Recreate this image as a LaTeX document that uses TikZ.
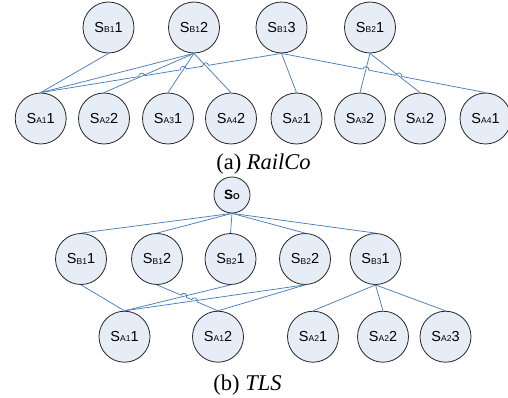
\documentclass[tikz,border=0pt]{standalone}
\usepackage{fontspec}
\setmainfont{Liberation Serif}
\newfontfamily\arialf{Liberation Sans}
\usetikzlibrary{calc,intersections}
\definecolor{nodefill}{RGB}{231,237,247}
\definecolor{edgeblue}{RGB}{74,126,187}
\newcommand\lbl[2]{{\arialf\fontsize{14.5}{15}\selectfont S\raisebox{-0.3pt}{\fontsize{8.5}{9}\selectfont #1}#2}}
\newcommand\lblo{{\arialf\bfseries\fontsize{13.5}{14}\selectfont S\raisebox{-0.6pt}{\fontsize{8.5}{9}\selectfont O}}}
\begin{document}
\begin{tikzpicture}[x=1pt,y=-1pt,
  st/.style={circle,draw=black!85,line width=0.8pt,fill=nodefill,minimum size=51pt,inner sep=0pt},
  sto/.style={st,minimum size=36pt},
  edge/.style={draw=edgeblue,line width=0.75pt},
  captxt/.style={font=\fontsize{22.5}{24}\selectfont,anchor=base,inner sep=0pt}]
\useasboundingbox (0,0) rectangle (508,398);
% ---------- RailCo ----------
\node[st] (rb11) at (108.5,27.5) {\lbl{B1}{1}};
\node[st] (rb12) at (194,27.5) {\lbl{B1}{2}};
\node[st] (rb13) at (281.5,27.5) {\lbl{B1}{3}};
\node[st] (rb21) at (370,27.5) {\lbl{B2}{1}};
\node[st] (ra11) at (40.7,118.5) {\lbl{A1}{1}};
\node[st] (ra22) at (104,118.5) {\lbl{A2}{2}};
\node[st] (ra31) at (168,118.5) {\lbl{A3}{1}};
\node[st] (ra42) at (231,118.5) {\lbl{A4}{2}};
\node[st] (ra21) at (296.5,118.5) {\lbl{A2}{1}};
\node[st] (ra32) at (360,118.5) {\lbl{A3}{2}};
\node[st] (ra12) at (420,118.5) {\lbl{A1}{2}};
\node[st] (ra41) at (485.5,118.5) {\lbl{A4}{1}};
\node[captxt] (capa) at (263.5,169) {(a) \textit{RailCo}};
\draw[edge] (rb11.south) -- (ra11.north);
\draw[edge] (rb12.south) -- (ra11.north);
\draw[edge,name path=r1] (rb12.south) -- (ra22.north);
\draw[edge,name path=r2] (rb12.south) -- (ra31.north);
\draw[edge,name path=r3] (rb12.south) -- (ra42.north);
\draw[edge] (rb13.south) -- (ra21.north);
\draw[edge,name path=r4] (rb21.south) -- (ra32.north);
\draw[edge,name path=r5] (rb21.south) -- (ra12.north);
\path[name path=rh1] (ra11.north) -- (rb13.south);
\path[name path=rh2] (rb13.south) -- (ra41.north);
\path[name intersections={of=rh1 and r1,by=x1}];
\path[name intersections={of=rh1 and r2,by=x2}];
\path[name intersections={of=rh1 and r3,by=x3}];
\path[name intersections={of=rh2 and r4,by=x4}];
\path[name intersections={of=rh2 and r5,by=x5}];
\coordinate (x1a) at ($(x1)!3pt!(ra11.north)$);
\coordinate (x1b) at ($(x1)!3pt!(rb13.south)$);
\coordinate (x2a) at ($(x2)!3pt!(ra11.north)$);
\coordinate (x2b) at ($(x2)!3pt!(rb13.south)$);
\coordinate (x3a) at ($(x3)!3pt!(ra11.north)$);
\coordinate (x3b) at ($(x3)!3pt!(rb13.south)$);
\coordinate (x4a) at ($(x4)!3pt!(rb13.south)$);
\coordinate (x4b) at ($(x4)!3pt!(ra41.north)$);
\coordinate (x5a) at ($(x5)!3pt!(rb13.south)$);
\coordinate (x5b) at ($(x5)!3pt!(ra41.north)$);
\draw[edge] (ra11.north)
  -- (x1a) .. controls ($(x1a)!4pt!90:(x1b)$) and ($(x1b)!4pt!-90:(x1a)$) .. (x1b)
  -- (x2a) .. controls ($(x2a)!4pt!90:(x2b)$) and ($(x2b)!4pt!-90:(x2a)$) .. (x2b)
  -- (x3a) .. controls ($(x3a)!4pt!90:(x3b)$) and ($(x3b)!4pt!-90:(x3a)$) .. (x3b)
  -- (rb13.south);
\draw[edge] (rb13.south)
  -- (x4a) .. controls ($(x4a)!4pt!90:(x4b)$) and ($(x4b)!4pt!-90:(x4a)$) .. (x4b)
  -- (x5a) .. controls ($(x5a)!4pt!90:(x5b)$) and ($(x5b)!4pt!-90:(x5a)$) .. (x5b)
  -- (ra41.north);
% ---------- TLS ----------
\node[sto] (so) at (232,195) {\lblo};
\node[st] (tb11) at (81,259) {\lbl{B1}{1}};
\node[st] (tb12) at (157,259) {\lbl{B1}{2}};
\node[st] (tb21) at (230.5,259) {\lbl{B2}{1}};
\node[st] (tb22) at (305,259) {\lbl{B2}{2}};
\node[st] (tb31) at (375.5,259) {\lbl{B3}{1}};
\node[st] (ta11) at (124.5,336.7) {\lbl{A1}{1}};
\node[st] (ta12) at (218,336.7) {\lbl{A1}{2}};
\node[st] (ta21) at (313,336.7) {\lbl{A2}{1}};
\node[st] (ta22) at (383,336.7) {\lbl{A2}{2}};
\node[st] (ta23) at (445.5,336.7) {\lbl{A2}{3}};
\node[captxt] (capb) at (247.5,390) {(b) \textit{TLS}};
\foreach \t in {tb11,tb12,tb21,tb22,tb31}{\draw[edge] (so.south) -- (\t.north);}
\draw[edge] (tb11.south) -- (ta11.north);
\draw[edge,name path=t1] (tb21.south) -- (ta11.north);
\draw[edge,name path=t2] (tb22.south) -- (ta11.north);
\draw[edge] (tb22.south) -- (ta12.north);
\draw[edge] (tb31.south) -- (ta21.north);
\draw[edge] (tb31.south) -- (ta22.north);
\draw[edge] (tb31.south) -- (ta23.north);
\path[name path=th] (tb12.south) -- (ta12.north);
\path[name intersections={of=th and t1,by=x6}];
\path[name intersections={of=th and t2,by=x7}];
\coordinate (x6a) at ($(x6)!3pt!(tb12.south)$);
\coordinate (x6b) at ($(x6)!3pt!(ta12.north)$);
\coordinate (x7a) at ($(x7)!3pt!(tb12.south)$);
\coordinate (x7b) at ($(x7)!3pt!(ta12.north)$);
\draw[edge] (tb12.south)
  -- (x6a) .. controls ($(x6a)!4pt!90:(x6b)$) and ($(x6b)!4pt!-90:(x6a)$) .. (x6b)
  -- (x7a) .. controls ($(x7a)!4pt!90:(x7b)$) and ($(x7b)!4pt!-90:(x7a)$) .. (x7b)
  -- (ta12.north);
\end{tikzpicture}
\end{document}
